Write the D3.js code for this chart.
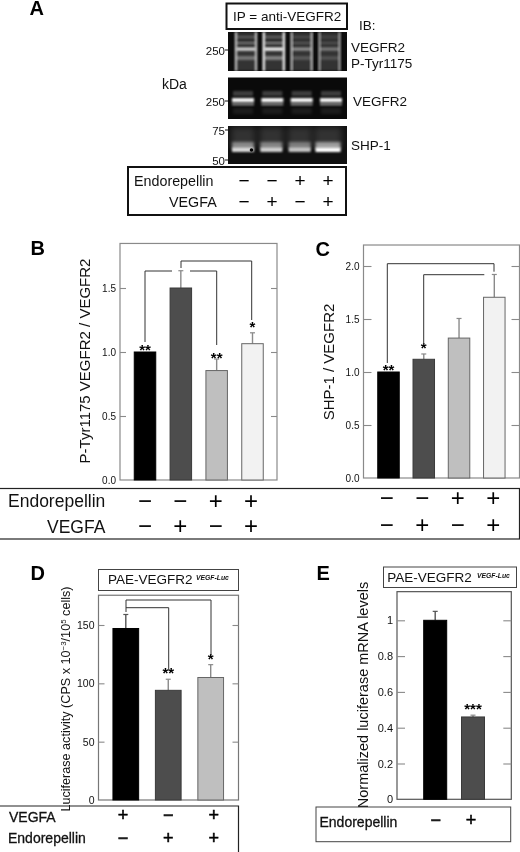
<!DOCTYPE html>
<html><head><meta charset="utf-8">
<script src="https://cdn.jsdelivr.net/npm/d3@7"></script>
<style>html,body{margin:0;padding:0;background:#fff}svg{display:block;font-family:"Liberation Sans",Arial,sans-serif;filter:blur(0.35px)}</style>
</head><body>
<svg id="c" width="520" height="852"></svg>
<script>
// ---------- data ----------
const conditions = ["ctrl","vegfa","endo","endo+vegfa"];
const endoSigns  = ["−","−","+","+"];
const vegfaSigns = ["−","+","−","+"];
const bValues = [1.0,1.5,0.855,1.065];
const bErrors = [0,0.135,0.09,0.085];
const bStars  = ["**","","**","*"];
const bTicks  = [0,0.5,1.0,1.5];
const cValues = [1.0,1.12,1.32,1.705];
const cErrors = [0,0.05,0.185,0.215];
const cStars  = ["**","*","",""];
const cTicks  = [0,0.5,1.0,1.5,2.0];
const dConditions = ["vegfa","endo","endo+vegfa"];
const dVegfaSigns = ["+","−","+"];
const dEndoSigns  = ["−","+","+"];
const dValues = [147,94,105];
const dErrors = [12,9.5,11];
const dStars  = ["","**","*"];
const dTicks  = [0,50,100,150];
const eConditions = ["ctrl","endo"];
const eEndoSigns  = ["−","+"];
const eValues = [1.0,0.46];
const eErrors = [0.05,0.01];
const eStars  = ["","***"];
const eTicks  = [0,0.2,0.4,0.6,0.8,1.0];
const ptyrBandLevels  = [0.8,0.95,0.45,0.35];
const ptyrEdgeLevels  = [0.75,1.0,0.7,0.6];
const vegfr2BandLevels = [0.95,0.95,0.95,0.95];
const shp1BandLevels  = [0.82,0.78,0.72,1.0];
const barColors = ["#000000","#4d4d4d","#bfbfbf","#f2f2f2"];

// ---------- helpers ----------
const svg = d3.select("#c");
const defs = svg.append("defs");
[["b1",0.8],["b2",1.6],["b3",3]].forEach(([id,s])=>{
  defs.append("filter").attr("id",id).attr("x","-50%").attr("y","-50%").attr("width","200%").attr("height","200%")
    .append("feGaussianBlur").attr("stdDeviation",s);
});
function txt(x,y,s,size,o={}){
  return svg.append("text").attr("x",x).attr("y",y).attr("font-size",size)
    .attr("text-anchor",o.anchor||"start").attr("font-weight",o.weight||"normal")
    .attr("font-style",o.style||"normal").attr("fill",o.fill||"#111")
    .attr("stroke",o.stroke||"none").attr("stroke-width",o.sw||0).text(s);
}
function box(x0,y0,x1,y1,sw,col){
  svg.append("rect").attr("x",x0).attr("y",y0).attr("width",x1-x0).attr("height",y1-y0)
    .attr("fill","none").attr("stroke",col||"#111").attr("stroke-width",sw);
}
function poly(pts,col,sw){
  svg.append("path").attr("d",d3.line()(pts)).attr("fill","none").attr("stroke",col||"#333").attr("stroke-width",sw||1);
}
function signs(x,list,cy,size,sw){
  list.forEach((s,i)=>{
    const g = txt(x(x.domain()[i]),cy+size*0.335,s,size,{anchor:"middle",fill:"#000"});
    if(sw) g.attr("stroke","#000").attr("stroke-width",sw);
  });
}
function panel(p){
  const x = d3.scalePoint().domain(p.cats).range(p.xr);
  const y = d3.scaleLinear().domain([0,p.ymax]).range([p.y0,p.y0-p.ymax*p.ppu]);
  const top = y(p.ymax);
  // frame
  svg.append("rect").attr("x",p.fx[0]).attr("y",top).attr("width",p.fx[1]-p.fx[0]).attr("height",p.y0-top)
    .attr("fill","#fff").attr("stroke",p.frame).attr("stroke-width",1.2);
  // ticks, through the library's axes
  const left = svg.append("g").attr("transform",`translate(${p.fx[0]},0)`)
    .call(d3.axisLeft(y).tickValues(p.ticks).tickFormat(d3.format(p.fmt)).tickSize(-p.tl).tickPadding(p.pad));
  const right = svg.append("g").attr("transform",`translate(${p.fx[1]},0)`)
    .call(d3.axisRight(y).tickValues(p.ticks.filter(t=>t>0)).tickSize(-p.tl).tickFormat(""));
  [left,right].forEach(a=>{a.select(".domain").remove();a.selectAll("line").attr("stroke","#8a8a8a").attr("stroke-width",1.1);});
  left.selectAll("text").attr("font-size",p.tfs).attr("font-family","inherit").attr("fill","#111");
  left.selectAll(".tick").filter(d=>d===0).select("line").remove();
  // error bars
  p.cats.forEach((c,i)=>{
    if(!p.err[i]) return;
    const cx=x(c), yt=y(p.vals[i]+p.err[i]);
    const col = i===0 ? "#555" : "#8a8a8a";
    poly([[cx,y(p.vals[i])],[cx,yt]],col,1.4);
    poly([[cx-2.5,yt],[cx+2.5,yt]],col,1.2);
  });
  // bars
  svg.append("g").selectAll("rect").data(p.vals).join("rect")
    .attr("x",(d,i)=>x(p.cats[i])-p.w/2).attr("width",p.w)
    .attr("y",d=>y(d)).attr("height",d=>p.y0-y(d))
    .attr("fill",(d,i)=>barColors[i])
    .attr("stroke",(d,i)=>i===0?"#000":(i===1?"#3a3a3a":"#666")).attr("stroke-width",1);
  // stars
  p.stars.forEach((s,i)=>{ if(s){
    txt(x(p.cats[i]),y(p.vals[i]+p.err[i])+p.sd[i],s,15,{anchor:"middle",weight:"bold",fill:"#000"});
  }});
  return {x,y};
}

// ---------- Panel A ----------
txt(29.5,14.5,"A",20,{weight:"bold",fill:"#000"});
box(226.5,3.5,347,29,2);
txt(233,21,"IP = anti-VEGFR2",13.5);
txt(359,30,"IB:",13.5);
txt(351,52,"VEGFR2",13.5);
txt(351,68,"P-Tyr1175",13.5);
txt(162,89,"kDa",14);
txt(353,106,"VEGFR2",13.5);
txt(351,150,"SHP-1",13.5);
txt(225,55,"250",11.5,{anchor:"end"});
txt(225,106,"250",11.5,{anchor:"end"});
txt(225,135,"75",11.5,{anchor:"end"});
txt(225,165,"50",11.5,{anchor:"end"});
[50,101,130,160].forEach(v=>poly([[225,v],[228,v]],"#111",1));

function blot(y0,y1,fill){
  svg.append("rect").attr("x",228).attr("y",y0).attr("width",119).attr("height",y1-y0).attr("fill",fill);
  return svg.append("g").attr("clip-path",`url(#clip${y0})`);
}
function clip(y0,y1){
  defs.append("clipPath").attr("id",`clip${y0}`).append("rect").attr("x",228).attr("y",y0).attr("width",119).attr("height",y1-y0);
}
function band(g,cx,w,y,h,op,f,col){
  g.append("rect").attr("x",cx-w/2).attr("y",y).attr("width",w).attr("height",h)
    .attr("fill",col||"#fff").attr("opacity",op).attr("filter",`url(#${f})`);
}
// blot 1: VEGFR2 P-Tyr1175
clip(32,71);
const lane1 = d3.scalePoint().domain(conditions).range([246,329.5]);
const g1 = blot(32,71,"#0c0c0c");
conditions.forEach((c,i)=>{
  const cx=lane1(c), e=ptyrEdgeLevels[i], b=ptyrBandLevels[i];
  band(g1,cx,20,32,39,0.16,"b2");
  band(g1,cx-10,2.2,32,39,e,"b1");
  band(g1,cx+10,2.2,32,39,e,"b1");
  band(g1,cx,19,47.5,3.2,b,"b1");
  band(g1,cx,19,42,2,b*0.4,"b1");
  band(g1,cx,19,56,4,b*0.4,"b1");
  band(g1,cx,19,36,2,b*0.25,"b1");
});
// blot 2: VEGFR2
clip(77.5,119);
const lane2 = d3.scalePoint().domain(conditions).range([243,331]);
const g2 = blot(77.5,119,"#0a0a0a");
conditions.forEach((c,i)=>{
  const cx=lane2(c), b=vegfr2BandLevels[i];
  band(g2,cx,22,98,4.4,b,"b1");
  band(g2,cx,22,103.5,1.8,b*0.65,"b1");
  band(g2,cx,20,91,5,b*0.22,"b1");
  band(g2,cx,20,108,6,b*0.08,"b2");
});
// blot 3: SHP-1
clip(126,164);
const lane3 = d3.scalePoint().domain(conditions).range([243,328]);
const g3 = blot(126,164,"#101010");
conditions.forEach((c,i)=>{
  const cx=lane3(c), b=shp1BandLevels[i], w=i===3?25:22;
  band(g3,cx,w+2,127,20,0.14,"b3");
  band(g3,cx,w,142,7,b*0.55,"b2");
  band(g3,cx,w,147.5,4.5,b,"b1");
});
g3.append("circle").attr("cx",251.5).attr("cy",150).attr("r",1.8).attr("fill","#000");

box(128,167,346,215,2);
txt(134,186,"Endorepellin",14.3);
txt(169,207,"VEGFA",14.3);
const xA = d3.scalePoint().domain(conditions).range([244,328]);
signs(xA,endoSigns,181,19);
signs(xA,vegfaSigns,201.5,19);

// ---------- Panel B ----------
txt(30.5,255,"B",20,{weight:"bold",fill:"#000"});
const B = panel({cats:conditions,xr:[145,252.5],w:21.5,vals:bValues,err:bErrors,stars:bStars,sd:[3,-1,3.5,-1].map(d=>d),
  y0:480,ppu:128,ymax:1.848,fx:[120,277],ticks:bTicks,fmt:".1f",frame:"#8a8a8a",tl:6,pad:4,tfs:10});
txt(0,0,"P-Tyr1175 VEGFR2 / VEGFR2",15).attr("text-anchor","middle").attr("transform","translate(90,361) rotate(-90)");
poly([[145,342],[145,271],[172,271]],"#333",1);
poly([[190,271],[216.7,271],[216.7,345]],"#333",1);
poly([[181,268],[181,261],[251.7,261],[251.7,320]],"#333",1);

// ---------- Panel C ----------
txt(315.5,256,"C",20,{weight:"bold",fill:"#000"});
panel({cats:conditions,xr:[388.5,494.3],w:21.5,vals:cValues,err:cErrors,stars:cStars,sd:[3,-1,0,0],
  y0:478,ppu:106,ymax:2.198,fx:[363.5,519.5],ticks:cTicks,fmt:".1f",frame:"#8a8a8a",tl:8,pad:4,tfs:10});
txt(0,0,"SHP-1 / VEGFR2",15).attr("text-anchor","middle").attr("transform","translate(334,362) rotate(-90)");
poly([[387.3,363],[387.3,263.7],[494,263.7],[494,271.7]],"#333",1);
poly([[423.7,345],[423.7,274.7],[484.3,274.7]],"#333",1);

// ---------- Table B/C ----------
svg.append("rect").attr("x",-2).attr("y",488.5).attr("width",521.5).attr("height",50.5).attr("fill","none").attr("stroke","#222").attr("stroke-width",1.2);
txt(8,506.5,"Endorepellin",17.5);
txt(47,533,"VEGFA",17.5);
const xTB = d3.scalePoint().domain(conditions).range([145,251]);
signs(xTB,endoSigns,501,24);
signs(xTB,vegfaSigns,526,24);
const xTC = d3.scalePoint().domain(conditions).range([386.7,493.3]);
signs(xTC,endoSigns,498,24);
signs(xTC,vegfaSigns,525,24);

// ---------- Panel D ----------
txt(30.5,580,"D",20,{weight:"bold",fill:"#000"});
box(98.5,569.5,238.5,590.5,1,"#444");
txt(108,583.5,"PAE-VEGFR2",13.5);
txt(196,580,"VEGF-Luc",6.8,{style:"italic",weight:"bold"});
panel({cats:dConditions,xr:[125.8,210.7],w:25.7,vals:dValues,err:dErrors,stars:dStars,sd:[0,-1,-1],
  y0:800,ppu:1.1667,ymax:175.5,fx:[98.5,238.5],ticks:dTicks,fmt:"d",frame:"#777",tl:6,pad:4,tfs:10.5});
const dLab = svg.append("text").attr("font-size",12.6).attr("fill","#111").attr("text-anchor","middle")
  .attr("transform","translate(70,699) rotate(-90)");
dLab.append("tspan").text("Luciferase activity (CPS x 10");
dLab.append("tspan").attr("dy",-4).attr("font-size",8).text("−3");
dLab.append("tspan").attr("dy",4).text("/10");
dLab.append("tspan").attr("dy",-4).attr("font-size",8).text("5");
dLab.append("tspan").attr("dy",4).text(" cells)");
poly([[126,612],[126,600],[211,600],[211,655]],"#333",1);
poly([[126,607.7],[168.7,607.7],[168.7,670]],"#333",1);
svg.append("path").attr("d","M-2,806H238.5V860M-2,806").attr("fill","none").attr("stroke","#222").attr("stroke-width",1.2);
txt(9,822,"VEGFA",14,{stroke:"#111",sw:0.3});
txt(8,843,"Endorepellin",14,{stroke:"#111",sw:0.3});
const xTD = d3.scalePoint().domain(dConditions).range([123,213.7]);
signs(xTD,dVegfaSigns,815,18,0.5);
signs(xTD,dEndoSigns,838,18,0.5);

// ---------- Panel E ----------
txt(316.5,580,"E",20,{weight:"bold",fill:"#000"});
box(383.5,567,516.5,587.5,1,"#444");
txt(387.3,582,"PAE-VEGFR2",13.5);
txt(477,578,"VEGF-Luc",6.8,{style:"italic",weight:"bold"});
panel({cats:eConditions,xr:[435.2,473],w:23,vals:eValues,err:eErrors,stars:eStars,sd:[0,-1],
  y0:799.3,ppu:179,ymax:1.16,fx:[397,511.3],ticks:eTicks,fmt:"",frame:"#555",tl:8,pad:4,tfs:11});
txt(0,0,"Normalized luciferase mRNA levels",14.5).attr("text-anchor","middle").attr("transform","translate(368,695) rotate(-90)");
box(316,807,510.7,841.7,1,"#444");
txt(319.5,827,"Endorepellin",14,{stroke:"#111",sw:0.3});
const xTE = d3.scalePoint().domain(eConditions).range([435.7,471]);
signs(xTE,eEndoSigns,820,18,0.5);
</script>
</body></html>
